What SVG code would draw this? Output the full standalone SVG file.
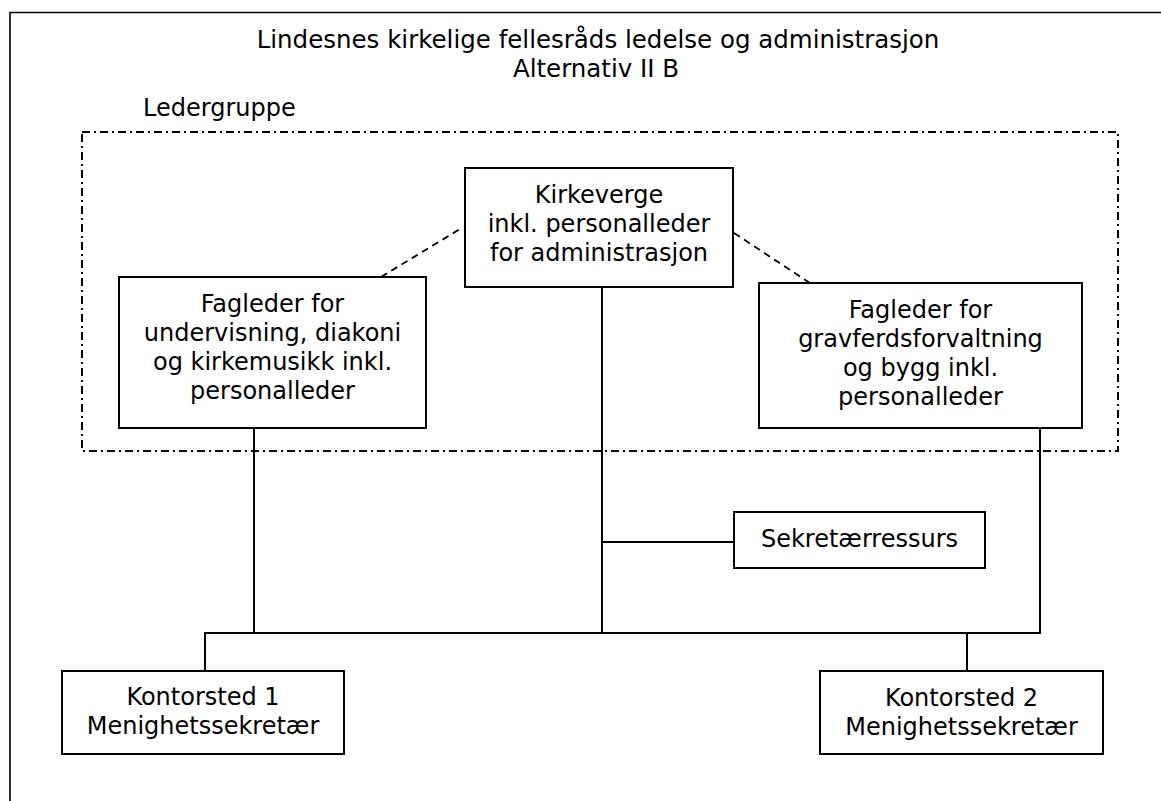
<svg xmlns="http://www.w3.org/2000/svg" width="1161" height="801" viewBox="0 0 1161 801">
<style>
text{font-family:"DejaVu Sans",Verdana,sans-serif;font-size:24px;fill:#000;text-anchor:middle}
.box{fill:#fff;stroke:#000;stroke-width:2}
.ln{fill:none;stroke:#000;stroke-width:2}
.dash{fill:none;stroke:#000;stroke-width:1.8;stroke-dasharray:7 5}
.grp{fill:none;stroke:#000;stroke-width:2;stroke-dasharray:8 4 2 4}
</style>
<rect width="1161" height="801" fill="#fff"/>
<path d="M10,801 V12.5 H1161" fill="none" stroke="#000" stroke-width="1.6"/>
<g id="title">
<text x="598" y="48" style="font-size:24.5px">Lindesnes kirkelige fellesråds ledelse og administrasjon</text>
<text x="596" y="77" style="font-size:24.5px">Alternativ II B</text>
</g>
<g id="ledergruppe">
<rect class="grp" x="82" y="132" width="1036" height="319"/>
<text x="143" y="116" style="text-anchor:start">Ledergruppe</text>
</g>
<g id="connectors">
<line class="dash" x1="381" y1="277" x2="460" y2="229"/>
<line class="dash" x1="734" y1="233" x2="810" y2="283"/>
<line class="ln" x1="602" y1="287" x2="602" y2="633"/>
<line class="ln" x1="254" y1="428" x2="254" y2="633"/>
<polyline class="ln" points="1040,428 1040,633 205,633 205,671"/>
<line class="ln" x1="967" y1="633" x2="967" y2="671"/>
<line class="ln" x1="602" y1="542" x2="734" y2="542"/>
</g>
<g id="kirkeverge">
<rect class="box" x="465" y="168" width="268" height="119"/>
<text x="599" y="203">Kirkeverge</text>
<text x="599" y="232">inkl. personalleder</text>
<text x="599" y="261">for administrasjon</text>
</g>
<g id="fagleder-undervisning">
<rect class="box" x="119" y="277" width="307" height="151"/>
<text x="272.5" y="312">Fagleder for</text>
<text x="272.5" y="341">undervisning, diakoni</text>
<text x="272.5" y="370">og kirkemusikk inkl.</text>
<text x="272.5" y="399">personalleder</text>
</g>
<g id="fagleder-gravferd">
<rect class="box" x="759" y="283" width="323" height="145"/>
<text x="920.5" y="318">Fagleder for</text>
<text x="920.5" y="347">gravferdsforvaltning</text>
<text x="920.5" y="376">og bygg inkl.</text>
<text x="920.5" y="405">personalleder</text>
</g>
<g id="sekretaerressurs">
<rect class="box" x="734" y="512" width="251" height="56"/>
<text x="859.5" y="547">Sekretærressurs</text>
</g>
<g id="kontorsted1">
<rect class="box" x="62" y="671" width="282" height="83"/>
<text x="203" y="705">Kontorsted 1</text>
<text x="203" y="734">Menighetssekretær</text>
</g>
<g id="kontorsted2">
<rect class="box" x="820" y="671" width="283" height="83"/>
<text x="961.5" y="706">Kontorsted 2</text>
<text x="961.5" y="735">Menighetssekretær</text>
</g>
</svg>
